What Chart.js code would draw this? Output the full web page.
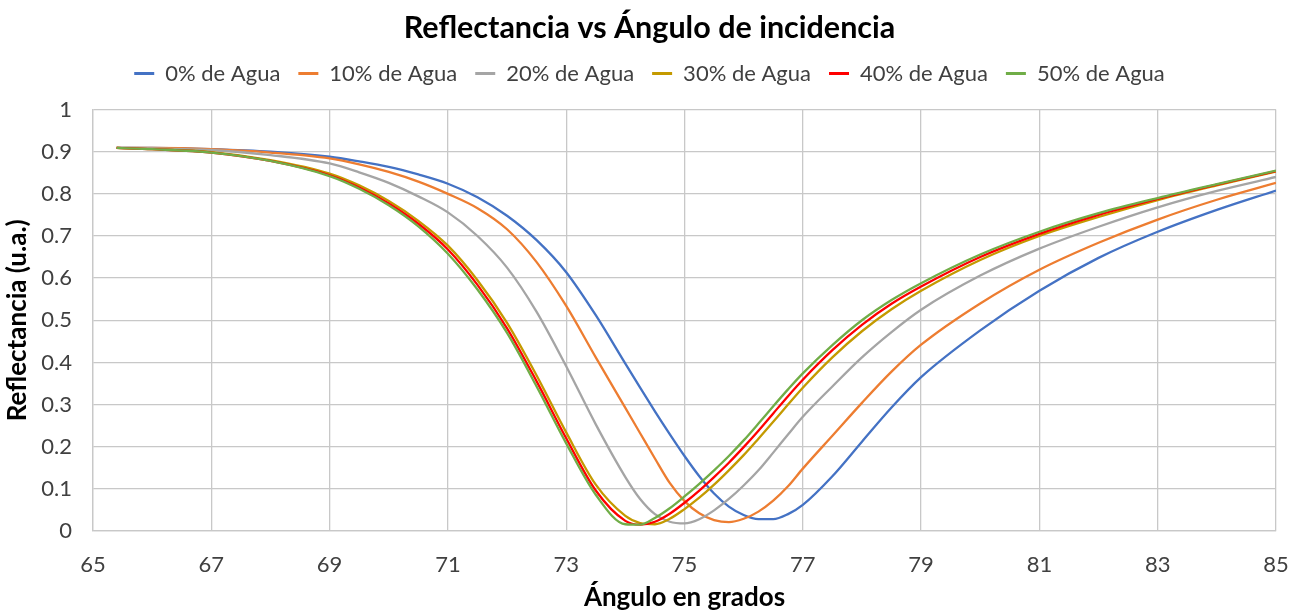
<!DOCTYPE html>
<html>
<head>
<meta charset="utf-8">
<script src="https://cdn.jsdelivr.net/npm/chart.js@4.4.1/dist/chart.umd.min.js"></script>
<style>
  html, body { margin: 0; padding: 0; background: #fff; }
  #wrap { width: 1302px; height: 614px; }
</style>
</head>
<body>
<div id="wrap"><canvas id="grafico" width="1302" height="614"></canvas></div>
<script>
// Ángulos (grados) donde se leen las curvas
const angulos = [65.4, 66, 67, 68, 69, 69.5, 70, 70.5, 71, 71.5, 72, 72.5, 73, 73.5, 74, 74.25, 74.5, 74.75,
                 75, 75.25, 75.5, 75.75, 76, 76.25, 76.5, 76.75, 77, 77.5, 78, 78.5, 79, 80, 81, 82, 83, 84, 85];

// Reflectancia por porcentaje de agua
const agua0  = [0.909, 0.909, 0.906, 0.900, 0.888, 0.877, 0.864, 0.846, 0.824, 0.792, 0.748, 0.690, 0.614, 0.512, 0.397, 0.340, 0.284, 0.230,
                0.178, 0.130, 0.089, 0.058, 0.038, 0.028, 0.028, 0.040, 0.062, 0.130, 0.212, 0.293, 0.365, 0.476, 0.570, 0.648, 0.710, 0.762, 0.808];
const agua10 = [0.909, 0.909, 0.906, 0.898, 0.884, 0.870, 0.852, 0.829, 0.800, 0.766, 0.716, 0.638, 0.534, 0.412, 0.292, 0.232, 0.172, 0.114,
                0.071, 0.042, 0.026, 0.021, 0.029, 0.046, 0.072, 0.106, 0.148, 0.226, 0.304, 0.378, 0.442, 0.540, 0.620, 0.684, 0.739, 0.786, 0.826];
const agua20 = [0.909, 0.908, 0.904, 0.892, 0.872, 0.851, 0.826, 0.794, 0.756, 0.700, 0.625, 0.520, 0.391, 0.253, 0.128, 0.076, 0.040, 0.022,
                0.018, 0.028, 0.049, 0.076, 0.108, 0.144, 0.186, 0.229, 0.271, 0.343, 0.412, 0.472, 0.525, 0.606, 0.670, 0.722, 0.768, 0.807, 0.840];
const agua30 = [0.909, 0.906, 0.899, 0.880, 0.848, 0.820, 0.783, 0.736, 0.677, 0.595, 0.494, 0.369, 0.234, 0.110, 0.036, 0.019, 0.016, 0.029,
                0.052, 0.079, 0.110, 0.144, 0.180, 0.219, 0.259, 0.300, 0.340, 0.412, 0.474, 0.526, 0.570, 0.643, 0.700, 0.745, 0.785, 0.820, 0.853];
const agua40 = [0.909, 0.906, 0.898, 0.878, 0.844, 0.815, 0.777, 0.729, 0.668, 0.584, 0.481, 0.355, 0.220, 0.096, 0.024, 0.015, 0.022, 0.041,
                0.067, 0.096, 0.128, 0.162, 0.199, 0.238, 0.279, 0.320, 0.359, 0.429, 0.489, 0.539, 0.580, 0.650, 0.705, 0.750, 0.788, 0.822, 0.854];
const agua50 = [0.909, 0.906, 0.898, 0.878, 0.842, 0.812, 0.773, 0.723, 0.658, 0.573, 0.470, 0.343, 0.208, 0.086, 0.016, 0.015, 0.031, 0.054,
                0.082, 0.112, 0.144, 0.178, 0.215, 0.255, 0.296, 0.336, 0.374, 0.441, 0.500, 0.548, 0.588, 0.656, 0.710, 0.754, 0.790, 0.823, 0.855];

const etiquetas = ['0% de Agua', '10% de Agua', '20% de Agua', '30% de Agua', '40% de Agua', '50% de Agua'];
const colores   = ['#4472C4', '#ED7D31', '#A5A5A5', '#C49A00', '#FF0000', '#70AD47'];
const series    = [agua0, agua10, agua20, agua30, agua40, agua50];

const ticksX = [65, 67, 69, 71, 73, 75, 77, 79, 81, 83, 85];
const ticksY = [0, 0.1, 0.2, 0.3, 0.4, 0.5, 0.6, 0.7, 0.8, 0.9, 1];

const fuente = 'Lato, "Open Sans", sans-serif';
const rejilla = '#C8C8C8';

// separación extra bajo la leyenda
const espacioLeyenda = {
    id: 'espacioLeyenda',
    beforeInit(chart) {
        if (!chart.legend) return;
        const fitOriginal = chart.legend.fit;
        chart.legend.fit = function () {
            fitOriginal.bind(chart.legend)();
            this.height += 15;
        };
    }
};

const datasets = series.map((valores, i) => ({
    label: etiquetas[i],
    data: angulos.map((a, j) => ({ x: a, y: valores[j] })),
    borderColor: colores[i],
    backgroundColor: colores[i],
    borderWidth: 2.3,
    pointRadius: 0,
    cubicInterpolationMode: 'monotone',
    order: series.length - i
}));

new Chart(document.getElementById('grafico'), {
    type: 'line',
    data: { datasets },
    plugins: [espacioLeyenda],
    options: {
        responsive: false,
        animation: false,
        layout: { padding: { left: 23, right: 26, top: 0, bottom: 0 } },
        plugins: {
            title: {
                display: true,
                text: 'Reflectancia vs Ángulo de incidencia',
                color: '#000',
                font: { family: fuente, size: 30.5, weight: 'bold', lineHeight: 1.1 },
                padding: { top: 11, bottom: 0 }
            },
            legend: {
                position: 'top',
                labels: {
                    color: '#404040',
                    font: { family: fuente, size: 22 },
                    boxWidth: 20,
                    boxHeight: 3,
                    padding: 18,
                    sort: (a, b) => a.datasetIndex - b.datasetIndex,
                    generateLabels: chart => Chart.defaults.plugins.legend.labels.generateLabels(chart)
                        .map(l => ({ ...l, lineWidth: 0 }))
                }
            },
            tooltip: { enabled: false }
        },
        scales: {
            x: {
                type: 'linear',
                min: 65,
                max: 85,
                afterBuildTicks: s => { s.ticks = ticksX.map(v => ({ value: v })); },
                afterFit: s => { s.height = 83; s.paddingLeft = 0; s.paddingRight = 0; },
                grid: { color: rejilla, lineWidth: 1.3, drawTicks: false },
                border: { color: rejilla, width: 1.3 },
                ticks: { color: '#404040', font: { family: fuente, size: 22 }, padding: 21, maxRotation: 0 },
                title: {
                    display: true,
                    text: 'Ángulo en grados',
                    color: '#000',
                    font: { family: fuente, size: 26, weight: 'bold' },
                    padding: { top: 0, bottom: 1 }
                }
            },
            y: {
                min: 0,
                max: 1,
                afterBuildTicks: s => { s.ticks = ticksY.map(v => ({ value: v })); },
                afterFit: s => { s.width = 70; },
                grid: { color: rejilla, lineWidth: 1.3, drawTicks: false },
                border: { color: rejilla, width: 1.3 },
                ticks: { color: '#404040', font: { family: fuente, size: 22 }, padding: 21,
                         callback: v => String(Math.round(v * 10) / 10) },
                title: {
                    display: true,
                    text: 'Reflectancia (u.a.)',
                    color: '#000',
                    font: { family: fuente, size: 26, weight: 'bold' },
                    padding: { top: -21, bottom: 0 }
                }
            }
        }
    }
});
</script>
</body>
</html>
